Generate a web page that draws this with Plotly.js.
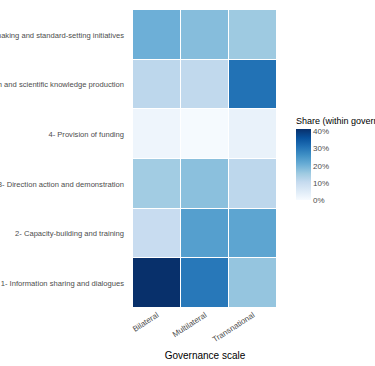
<!DOCTYPE html>
<html>
<head>
<meta charset="utf-8">
<script src="https://cdn.plot.ly/plotly-3.0.1.min.js"></script>
<style>html,body{margin:0;padding:0;background:#fff;}#chart{width:375px;height:366px;}</style>
</head>
<body>
<div id="chart"></div>
<script>
const scales = ['Bilateral', 'Multilateral', 'Transnational'];
const functions = [
  '1- Information sharing and dialogues',
  '2- Capacity-building and training',
  '3- Direction action and demonstration',
  '4- Provision of funding',
  '5- Research and scientific knowledge production',
  '6- Rule-making and standard-setting initiatives'
];
// share (%) per function (rows, bottom to top) for each governance scale
const bilateral     = [41.5, 10.0, 15.0, 1.8, 11.5, 20.5];
const multilateral  = [30.0, 23.5, 17.5, 0.4, 11.0, 18.0];
const transnational = [16.5, 22.5, 11.5, 3.0, 31.0, 15.5];
const colorTicks = [0, 10, 20, 30, 40];

const z = functions.map((f, i) => [bilateral[i], multilateral[i], transnational[i]]);
const blues = ['#F7FBFF','#DEEBF7','#C6DBEF','#9ECAE1','#6BAED6','#4292C6','#2171B5','#08519C','#08306B'];
const colorscale = blues.map((c, i) => [i / (blues.length - 1), c]);

const trace = {
  type: 'heatmap',
  x: scales,
  y: functions,
  z: z,
  zmin: 0,
  zmax: 41.5,
  colorscale: colorscale,
  xgap: 1,
  ygap: 1,
  hoverongaps: false,
  colorbar: {
    title: {text: 'Share (within governance scale)', side: 'top', font: {size: 9, color: '#000', family: 'Liberation Sans, Arial, sans-serif'}},
    thickness: 15,
    lenmode: 'pixels',
    len: 86,
    x: 1.132,
    xanchor: 'left',
    xpad: 0,
    y: 0.651,
    yanchor: 'top',
    ypad: 0,
    outlinewidth: 0,
    tickvals: colorTicks,
    ticktext: colorTicks.map(v => v + '%'),
    ticks: '',
    tickfont: {size: 8, color: '#4D4D4D'}
  }
};

const layout = {
  width: 375,
  height: 366,
  margin: {l: 133, r: 98, t: 10, b: 58, autoexpand: false},
  paper_bgcolor: '#fff',
  plot_bgcolor: '#fff',
  font: {family: 'Liberation Sans, Arial, sans-serif', color: '#4D4D4D'},
  xaxis: {
    type: 'category',
    tickangle: -33,
    tickfont: {size: 8, color: '#4D4D4D'},
    showgrid: false,
    zeroline: false,
    ticks: '',
    automargin: false,
    title: {text: 'Governance scale', font: {size: 10, color: '#000'}, standoff: 8}
  },
  yaxis: {
    type: 'category',
    tickfont: {size: 7.6, color: '#4D4D4D'},
    showgrid: false,
    zeroline: false,
    ticks: '',
    automargin: false,
    ticklabelstandoff: 8
  }
};

Plotly.newPlot('chart', [trace], layout, {displayModeBar: false, staticPlot: true});
</script>
</body>
</html>
